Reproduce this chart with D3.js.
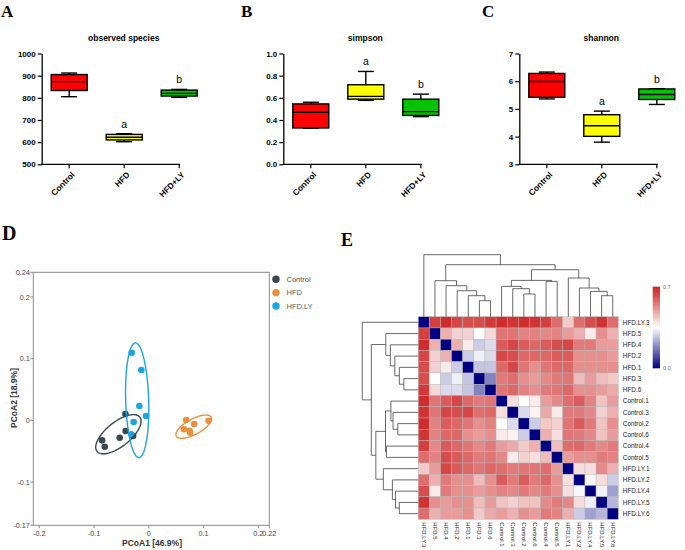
<!DOCTYPE html>
<html><head><meta charset="utf-8">
<script src="https://cdn.jsdelivr.net/npm/d3@7"></script>
<style>body{margin:0;background:#fff}svg{display:block}</style>
</head><body>
<svg id="chart" width="685" height="550"></svg>
<script>
// ---------------- DATA ----------------
const boxCategories = ["Control", "HFD", "HFD+LY"];
const boxColors = ["#ff0000", "#ffff00", "#00c400"];
// [min, q1, median, q3, max]
const observedSpecies = [[805, 833, 873, 905, 912], [602, 610, 622, 635, 638], [802, 808, 820, 835, 838]];
const simpsonStats = [[0.325, 0.328, 0.47, 0.545, 0.56], [0.577, 0.588, 0.613, 0.718, 0.838], [0.43, 0.441, 0.475, 0.588, 0.633]];
const shannonStats = [[5.36, 5.42, 5.99, 6.28, 6.33], [3.80, 4.01, 4.39, 4.79, 4.92], [5.16, 5.34, 5.52, 5.72, 5.73]];
const sigLetters = ["", "a", "b"];
const observedTicks = [500, 600, 700, 800, 900, 1000];
const simpsonTicks = [0, 0.2, 0.4, 0.6, 0.8, 1.0];
const shannonTicks = [3, 4, 5, 6, 7];

// PCoA
const pcoaGroups = ["Control", "HFD", "HFD.LY"];
const pcoaColors = ["#37474f", "#e8913d", "#1ba6de"];
const controlPC1 = [-0.0428, -0.0423, -0.0532, -0.0853, -0.0805, -0.0288];
const controlPC2 = [0.0104, -0.0172, -0.028, -0.0323, -0.0426, -0.0253];
const hfdPC1 = [0.0683, 0.0829, 0.109, 0.0641, 0.0756, 0.0744];
const hfdPC2 = [0.0006, -0.0058, -0.0005, -0.0144, -0.0199, -0.0167];
const hfdlyPC1 = [-0.0313, -0.0137, -0.0173, -0.0051, -0.0277, -0.0319];
const hfdlyPC2 = [0.1097, 0.0817, 0.0233, 0.0071, -0.0026, -0.0225];
const ellipseCX = [-0.0556, 0.082, -0.0213];
const ellipseCY = [-0.0224, -0.0102, 0.0327];
const ellipseA = [0.048, 0.0354, 0.093];
const ellipseB = [0.0205, 0.0127, 0.021];
const ellipseAngle = [34, 25, 92];
const pcoaXTicks = [-0.2, -0.1, 0, 0.1, 0.2, 0.22];
const pcoaYTicks = [-0.17, -0.1, 0, 0.1, 0.2, 0.24];

// Heatmap (display order)
const sampleNames = ["HFD.LY.3", "HFD.5", "HFD.4", "HFD.2", "HFD.1", "HFD.3", "HFD.6",
  "Control.1", "Control.3", "Control.2", "Control.6", "Control.4", "Control.5",
  "HFD.LY.1", "HFD.LY.2", "HFD.LY.4", "HFD.LY.5", "HFD.LY.6"];
const distMatrix = [
  [0, 0.64, 0.67, 0.63, 0.62, 0.62, 0.65, 0.67, 0.66, 0.67, 0.66, 0.64, 0.57, 0.43, 0.57, 0.62, 0.66, 0.57],
  [0.64, 0, 0.47, 0.42, 0.42, 0.35, 0.41, 0.56, 0.56, 0.54, 0.54, 0.53, 0.54, 0.50, 0.47, 0.38, 0.52, 0.47],
  [0.67, 0.47, 0, 0.47, 0.38, 0.28, 0.30, 0.60, 0.63, 0.60, 0.58, 0.60, 0.62, 0.63, 0.55, 0.55, 0.50, 0.50],
  [0.63, 0.42, 0.47, 0, 0.28, 0.33, 0.30, 0.63, 0.62, 0.58, 0.58, 0.58, 0.60, 0.60, 0.52, 0.52, 0.52, 0.50],
  [0.62, 0.42, 0.38, 0.28, 0, 0.27, 0.27, 0.58, 0.63, 0.56, 0.52, 0.56, 0.58, 0.58, 0.52, 0.52, 0.52, 0.52],
  [0.62, 0.35, 0.28, 0.33, 0.27, 0, 0.18, 0.55, 0.57, 0.52, 0.50, 0.53, 0.55, 0.56, 0.45, 0.50, 0.45, 0.43],
  [0.65, 0.41, 0.30, 0.30, 0.27, 0.18, 0, 0.56, 0.58, 0.54, 0.52, 0.55, 0.56, 0.58, 0.52, 0.52, 0.50, 0.48],
  [0.67, 0.56, 0.60, 0.63, 0.58, 0.55, 0.56, 0, 0.40, 0.35, 0.38, 0.50, 0.53, 0.57, 0.60, 0.54, 0.44, 0.50],
  [0.66, 0.56, 0.63, 0.62, 0.63, 0.57, 0.58, 0.40, 0, 0.30, 0.37, 0.48, 0.38, 0.55, 0.55, 0.53, 0.42, 0.47],
  [0.67, 0.54, 0.60, 0.58, 0.56, 0.52, 0.54, 0.35, 0.30, 0, 0.28, 0.43, 0.42, 0.56, 0.60, 0.55, 0.44, 0.52],
  [0.66, 0.54, 0.58, 0.58, 0.52, 0.50, 0.52, 0.38, 0.37, 0.28, 0, 0.47, 0.40, 0.56, 0.55, 0.53, 0.44, 0.50],
  [0.64, 0.53, 0.60, 0.58, 0.56, 0.53, 0.55, 0.50, 0.48, 0.43, 0.47, 0, 0.45, 0.57, 0.58, 0.55, 0.53, 0.55],
  [0.57, 0.54, 0.62, 0.60, 0.58, 0.55, 0.56, 0.53, 0.38, 0.42, 0.40, 0.45, 0, 0.50, 0.52, 0.52, 0.55, 0.54],
  [0.43, 0.50, 0.63, 0.60, 0.58, 0.56, 0.58, 0.57, 0.55, 0.56, 0.56, 0.57, 0.50, 0, 0.40, 0.40, 0.53, 0.47],
  [0.57, 0.47, 0.55, 0.52, 0.52, 0.45, 0.52, 0.60, 0.55, 0.60, 0.55, 0.58, 0.52, 0.40, 0, 0.34, 0.40, 0.28],
  [0.62, 0.38, 0.55, 0.52, 0.52, 0.50, 0.52, 0.54, 0.53, 0.55, 0.53, 0.55, 0.52, 0.40, 0.34, 0, 0.33, 0.22],
  [0.66, 0.52, 0.50, 0.52, 0.52, 0.45, 0.50, 0.44, 0.42, 0.44, 0.44, 0.53, 0.55, 0.53, 0.40, 0.33, 0, 0.25],
  [0.57, 0.47, 0.50, 0.50, 0.52, 0.43, 0.48, 0.50, 0.47, 0.52, 0.50, 0.55, 0.54, 0.47, 0.28, 0.22, 0.25, 0]
];
const heatLegendTicks = [0.0, 0.7];
// hierarchical clustering tree (leaf = index in sampleNames, h = merge height)
const clusterTree = {h: 62, children: [
  {leaf: 0},
  {h: 52, children: [
    {h: 36, children: [{leaf: 1}, {h: 31, children: [{leaf: 2}, {h: 26, children: [{leaf: 3},
      {h: 21, children: [{leaf: 4}, {h: 16, children: [{leaf: 5}, {leaf: 6}]}]}]}]}]},
    {h: 47, children: [
      {h: 36.3, children: [
        {h: 30.3, children: [{leaf: 7}, {h: 28, children: [{leaf: 8}, {h: 22.7, children: [{leaf: 9}, {leaf: 10}]}]}]},
        {h: 35.3, children: [{leaf: 11}, {leaf: 12}]}
      ]},
      {h: 38.7, children: [{leaf: 13}, {h: 28.7, children: [{leaf: 14}, {h: 25.3, children: [{leaf: 15},
        {h: 21, children: [{leaf: 16}, {leaf: 17}]}]}]}]}
    ]}
  ]}
]};

// ---------------- DRAWING ----------------
const svg = d3.select("#chart");
svg.append("rect").attr("width", 685).attr("height", 550).attr("fill", "#fff");
const SANS = "'Liberation Sans', Arial, sans-serif";
const SERIF = "'Liberation Serif', 'Times New Roman', serif";

function panelLabel(t, x, y, size) {
  svg.append("text").attr("x", x).attr("y", y).text(t)
    .attr("font-family", SERIF).attr("font-weight", "bold").attr("font-size", size).attr("fill", "#000");
}
panelLabel("A", 1, 17, 17);
panelLabel("B", 241, 17, 17);
panelLabel("C", 482, 17, 17);
panelLabel("D", 2, 240, 20);
panelLabel("E", 341, 245.5, 18);

function boxPanel(x0, stats, ticks, fmt, domain, title) {
  const y = d3.scaleLinear().domain(domain).range([164.3, 53.5]);
  const x = d3.scalePoint().domain(boxCategories).range([x0 + 27.5, x0 + 137.5]);
  const g = svg.append("g");
  const bw = 36, cw = 16;
  g.append("text").attr("x", x0 + 82).attr("y", 41).attr("text-anchor", "middle")
    .attr("font-family", SANS).attr("font-weight", "bold").attr("font-size", 8.5).text(title);
  const ya = g.append("g").attr("transform", `translate(${x0},0)`)
    .call(d3.axisLeft(y).tickValues(ticks).tickFormat(fmt).tickSize(4).tickSizeOuter(0).tickPadding(2));
  ya.select(".domain").attr("stroke", "#000").attr("stroke-width", 1.3);
  ya.selectAll(".tick line").attr("stroke", "#000").attr("stroke-width", 1.2);
  ya.selectAll(".tick text").attr("font-family", SANS).attr("font-weight", "bold").attr("font-size", 8).attr("fill", "#000");
  g.append("line").attr("x1", x0 - 0.6).attr("x2", x0 + 138.5).attr("y1", y(domain[0])).attr("y2", y(domain[0]))
    .attr("stroke", "#000").attr("stroke-width", 1.3);
  boxCategories.forEach((c, i) => {
    const cx = x(c), s = stats[i];
    g.append("line").attr("x1", cx).attr("x2", cx).attr("y1", y(domain[0])).attr("y2", y(domain[0]) + 4)
      .attr("stroke", "#000").attr("stroke-width", 1.2);
    g.append("text").attr("transform", `translate(${cx + 4},${y(domain[0]) + 9}) rotate(-45)`)
      .attr("text-anchor", "end").attr("dy", "0.35em")
      .attr("font-family", SANS).attr("font-weight", "bold").attr("font-size", 8.3).text(c);
    g.append("line").attr("x1", cx).attr("x2", cx).attr("y1", y(s[4])).attr("y2", y(s[3])).attr("stroke", "#000").attr("stroke-width", 1.4);
    g.append("line").attr("x1", cx).attr("x2", cx).attr("y1", y(s[1])).attr("y2", y(s[0])).attr("stroke", "#000").attr("stroke-width", 1.4);
    g.append("line").attr("x1", cx - cw / 2).attr("x2", cx + cw / 2).attr("y1", y(s[4])).attr("y2", y(s[4])).attr("stroke", "#000").attr("stroke-width", 1.4);
    g.append("line").attr("x1", cx - cw / 2).attr("x2", cx + cw / 2).attr("y1", y(s[0])).attr("y2", y(s[0])).attr("stroke", "#000").attr("stroke-width", 1.4);
    g.append("rect").attr("x", cx - bw / 2).attr("width", bw).attr("y", y(s[3])).attr("height", y(s[1]) - y(s[3]))
      .attr("fill", boxColors[i]).attr("stroke", "#000").attr("stroke-width", 1.4);
    g.append("line").attr("x1", cx - bw / 2).attr("x2", cx + bw / 2).attr("y1", y(s[2])).attr("y2", y(s[2])).attr("stroke", "#000").attr("stroke-width", 1.4);
    if (sigLetters[i]) {
      g.append("text").attr("x", cx).attr("y", y(s[4]) - 6).attr("text-anchor", "middle")
        .attr("font-family", SANS).attr("font-size", 10.5).text(sigLetters[i]);
    }
  });
}
boxPanel(41.7, observedSpecies, observedTicks, d3.format("d"), [500, 1000], "observed species");
boxPanel(283.3, simpsonStats, simpsonTicks, d3.format(".1f"), [0, 1], "simpson");
boxPanel(519.3, shannonStats, shannonTicks, d3.format("d"), [3, 7], "shannon");

// ---------------- PCoA ----------------
(function () {
  const L = 33.3, R = 269.3, T = 272.3, B = 525.3;
  const x = d3.scaleLinear().domain([-0.211, 0.22]).range([L, R]);
  const y = d3.scaleLinear().domain([-0.17, 0.24]).range([B, T]);
  const g = svg.append("g");
  g.append("rect").attr("x", L).attr("y", T).attr("width", R - L).attr("height", B - T)
    .attr("fill", "none").attr("stroke", "#8a8a8a").attr("stroke-width", 1);
  pcoaXTicks.forEach(v => {
    g.append("line").attr("x1", x(v)).attr("x2", x(v)).attr("y1", B).attr("y2", B + 3).attr("stroke", "#8a8a8a");
    g.append("text").attr("x", x(v)).attr("y", B + 10.5).attr("text-anchor", "middle")
      .attr("font-family", SANS).attr("font-size", 7.2).attr("fill", "#444").text(String(v));
  });
  pcoaYTicks.forEach(v => {
    g.append("line").attr("x1", L - 3).attr("x2", L).attr("y1", y(v)).attr("y2", y(v)).attr("stroke", "#8a8a8a");
    g.append("text").attr("x", L - 3.5).attr("y", y(v)).attr("dy", "0.35em").attr("text-anchor", "end")
      .attr("font-family", SANS).attr("font-size", 7.2).attr("fill", "#444").text(String(v));
  });
  g.append("text").attr("x", 152).attr("y", 545.5).attr("text-anchor", "middle")
    .attr("font-family", SANS).attr("font-weight", "bold").attr("font-size", 8.5).attr("fill", "#333").text("PCoA1 [46.9%]");
  g.append("text").attr("transform", "translate(16.5,398) rotate(-90)").attr("text-anchor", "middle")
    .attr("font-family", SANS).attr("font-weight", "bold").attr("font-size", 8.5).attr("fill", "#333").text("PCoA2 [18.9%]");

  const pts = [[controlPC1, controlPC2], [hfdPC1, hfdPC2], [hfdlyPC1, hfdlyPC2]];
  const order = [1, 0, 2];
  order.forEach(gi => {
    const [px, py] = pts[gi];
    px.forEach((v, k) => {
      g.append("circle").attr("cx", x(v)).attr("cy", y(py[k])).attr("r", 3.3).attr("fill", pcoaColors[gi]);
    });
  });
  order.forEach(gi => {
    const th = ellipseAngle[gi] * Math.PI / 180;
    const ptsE = d3.range(0, 361, 3).map(d => {
      const t = d * Math.PI / 180;
      const ex = ellipseCX[gi] + ellipseA[gi] * Math.cos(th) * Math.cos(t) - ellipseB[gi] * Math.sin(th) * Math.sin(t);
      const ey = ellipseCY[gi] + ellipseA[gi] * Math.sin(th) * Math.cos(t) + ellipseB[gi] * Math.cos(th) * Math.sin(t);
      return [x(ex), y(ey)];
    });
    g.append("path").attr("d", d3.line().curve(d3.curveLinearClosed)(ptsE))
      .attr("fill", "none").attr("stroke", pcoaColors[gi]).attr("stroke-width", 1.4);
  });
  pcoaGroups.forEach((name, i) => {
    const ly = 279.3 + i * 13.35;
    g.append("circle").attr("cx", 276).attr("cy", ly).attr("r", 3.7).attr("fill", pcoaColors[i]);
    g.append("text").attr("x", 286.5).attr("y", ly).attr("dy", "0.35em")
      .attr("font-family", SANS).attr("font-size", 7.5).attr("fill", "#555").text(name);
  });
})();

// ---------------- Heatmap ----------------
(function () {
  const HX0 = 418.3, HX1 = 618.3, HY0 = 316.7, HY1 = 519.3;
  const xb = d3.scaleBand().domain(sampleNames).range([HX0, HX1]);
  const yb = d3.scaleBand().domain(sampleNames).range([HY0, HY1]);
  const color = d3.scaleLinear().domain([0, 0.35, 0.68]).range(["#000080", "#ffffff", "#cd2626"]).clamp(true);
  const g = svg.append("g");
  distMatrix.forEach((row, i) => {
    row.forEach((v, j) => {
      g.append("rect").attr("x", xb(sampleNames[j])).attr("y", yb(sampleNames[i]))
        .attr("width", xb.bandwidth()).attr("height", yb.bandwidth())
        .attr("fill", color(v)).attr("stroke", "#b4b4b4").attr("stroke-width", 0.4);
    });
  });
  sampleNames.forEach(n => {
    g.append("text").attr("x", HX1 + 4.5).attr("y", yb(n) + yb.bandwidth() / 2).attr("dy", "0.35em")
      .attr("font-family", SANS).attr("font-size", 6.4).attr("fill", "#222").text(n);
    g.append("text").attr("transform", `translate(${xb(n) + xb.bandwidth() / 2},${HY1 + 3}) rotate(90)`)
      .attr("dy", "0.35em").attr("font-family", SANS).attr("font-size", 6).attr("fill", "#222").text(n);
  });
  const colH = d3.scaleLinear().domain([0, 62]).range([HY0, 254.7]);
  const rowH = d3.scaleLinear().domain([0, 62]).range([HX0, 362.3]);
  function layout(node) {
    if (node.leaf !== undefined) { node.pos = node.leaf; node.hh = 0; return; }
    node.children.forEach(layout);
    node.hh = node.h;
    node.pos = d3.mean(node.children, c => c.pos);
  }
  layout(clusterTree);
  const colPos = p => HX0 + xb.bandwidth() * (p + 0.5);
  const rowPos = p => HY0 + yb.bandwidth() * (p + 0.5);
  function drawNode(node) {
    if (node.leaf !== undefined) return;
    const [a, b] = node.children;
    g.append("path").attr("d",
      `M${colPos(a.pos)},${colH(a.hh)}V${colH(node.hh)}H${colPos(b.pos)}V${colH(b.hh)}`)
      .attr("fill", "none").attr("stroke", "#444").attr("stroke-width", 0.8);
    g.append("path").attr("d",
      `M${rowH(a.hh)},${rowPos(a.pos)}H${rowH(node.hh)}V${rowPos(b.pos)}H${rowH(b.hh)}`)
      .attr("fill", "none").attr("stroke", "#444").attr("stroke-width", 0.8);
    drawNode(a); drawNode(b);
  }
  drawNode(clusterTree);
  const defs = svg.append("defs");
  const grad = defs.append("linearGradient").attr("id", "hmgrad").attr("x1", 0).attr("x2", 0).attr("y1", 1).attr("y2", 0);
  d3.range(0, 1.0001, 0.1).forEach(f => {
    grad.append("stop").attr("offset", f).attr("stop-color", color(f * 0.7));
  });
  const ly = d3.scaleLinear().domain([0, 0.7]).range([368.3, 286.7]);
  g.append("rect").attr("x", 652.7).attr("y", ly(0.7)).attr("width", 7.3).attr("height", ly(0) - ly(0.7))
    .attr("fill", "url(#hmgrad)");
  heatLegendTicks.forEach(v => {
    g.append("text").attr("x", 663).attr("y", ly(v)).attr("dy", "0.35em")
      .attr("font-family", SANS).attr("font-size", 5.5).attr("fill", "#666").text(d3.format(".1f")(v));
  });
})();
</script>
</body></html>
